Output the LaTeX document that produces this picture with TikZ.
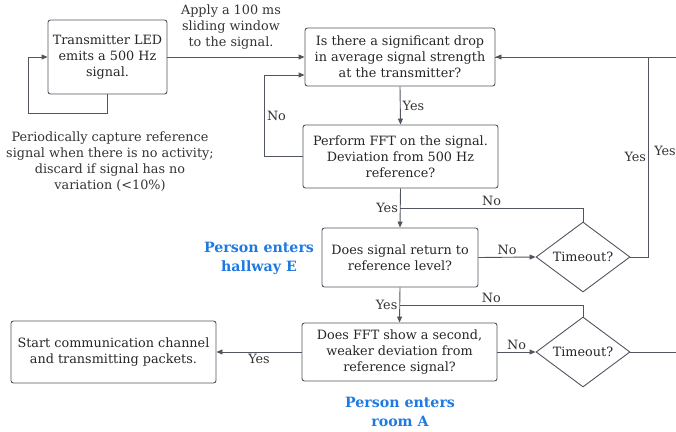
\documentclass[tikz,border=0pt]{standalone}
\usepackage{fontspec}
\setmainfont{DejaVu Serif}
\usetikzlibrary{shapes.geometric,arrows.meta,calc}
\definecolor{linec}{HTML}{50555F}
\definecolor{tagblue}{HTML}{1F7AE0}
\newcommand\chartfont{\fontsize{12.8}{16}\selectfont}
\newcommand\tagfont{\fontsize{14.2}{19}\selectfont\bfseries}
\tikzset{
  stepbox/.style={draw=linec, line width=0.9pt, rounded corners=2.5pt, align=center, inner sep=0pt, font=\chartfont, text=black!85},
  checkbox/.style={draw=linec, line width=0.9pt, diamond, inner sep=0pt, minimum width=94, minimum height=54, font=\chartfont, text=black!85},
  lbl/.style={font=\chartfont, text=black!80, inner sep=2pt},
  tag/.style={font=\tagfont, text=tagblue, align=center},
  arr/.style={draw=linec, line width=0.9pt, -{Triangle[length=6pt,width=5pt]}},
  wire/.style={draw=linec, line width=0.9pt}
}
\begin{document}
\begin{tikzpicture}[x=1pt, y=-1pt]
  \useasboundingbox (0,0) rectangle (676,431);
  \node[stepbox, minimum width=119, minimum height=74] (led) at (107.5,57) {Transmitter LED\\emits a 500 Hz\\signal.};
  \node[stepbox, minimum width=190, minimum height=58] (drop) at (400,57) {Is there a significant drop\\in average signal strength\\at the transmitter?};
  \node[stepbox, minimum width=195, minimum height=63] (fft) at (400.5,156.5) {Perform FFT on the signal.\\Deviation from 500 Hz\\reference?};
  \node[stepbox, minimum width=156, minimum height=59] (ret) at (400,257.5) {Does signal return to\\reference level?};
  \node[stepbox, minimum width=195, minimum height=58] (second) at (399.5,352) {Does FFT show a second,\\weaker deviation from\\reference signal?};
  \node[stepbox, minimum width=205, minimum height=62] (start) at (113.5,352) {Start communication channel\\and transmitting packets.};
  \node[checkbox] (tout1) at (583,257) {Timeout?};
  \node[checkbox] (tout2) at (583,352) {Timeout?};
  \node[lbl, align=center] (window) at (231,27) {Apply a 100 ms\\sliding window\\to the signal.};
  \node[lbl, align=center] (capture) at (110,162) {Periodically capture reference\\signal when there is no activity;\\discard if signal has no\\variation (<10\%)};
  \node[tag] (hallway) at (259,258) {Person enters\\hallway E};
  \node[tag] (room) at (400,412) {Person enters\\room A};
  \coordinate (join1) at ($(fft.south)!0.5!(ret.north)$);
  \coordinate (join2) at ($(ret.south)!0.5!(second.north)$);
  \coordinate (edge1) at (676,57);
  \coordinate (edge2) at (676,352);

  \draw[arr] (led.east) -- (drop.west);
  \draw[arr] (led.south) -- ++(0,19) -| ([xshift=-19pt]led.west) -- (led.west);
  \draw[arr] (drop.south) -- (fft.north) node[lbl, midway, right] {Yes};
  \draw[arr] (fft.west) -- ++(-38,0) |- ([yshift=-18pt]drop.west) node[lbl, pos=0.25, right] {No};
  \draw[arr] (fft.south) -- (ret.north) node[lbl, midway, left] {Yes};
  \draw[wire] (tout1.north) |- (join1) node[lbl, pos=0.75, above] {No};
  \draw[arr] (ret.east) -- (tout1.west) node[lbl, midway, above] {No};
  \draw[arr] (tout1.east) -- ++(18,0) |- (drop.east) node[lbl, pos=0.25, left] {Yes};
  \draw[wire] (edge1) -- (drop.east);
  \node[lbl] (yesoff) at (665,151) {Yes};
  \draw[arr] (ret.south) -- (second.north) node[lbl, midway, left] {Yes};
  \draw[wire] (tout2.north) |- (join2) node[lbl, pos=0.75, above] {No};
  \draw[arr] (second.east) -- (tout2.west) node[lbl, midway, above] {No};
  \draw[wire] (tout2.east) -- (edge2);
  \draw[arr] (second.west) -- (start.east) node[lbl, midway, below] {Yes};
\end{tikzpicture}
\end{document}
